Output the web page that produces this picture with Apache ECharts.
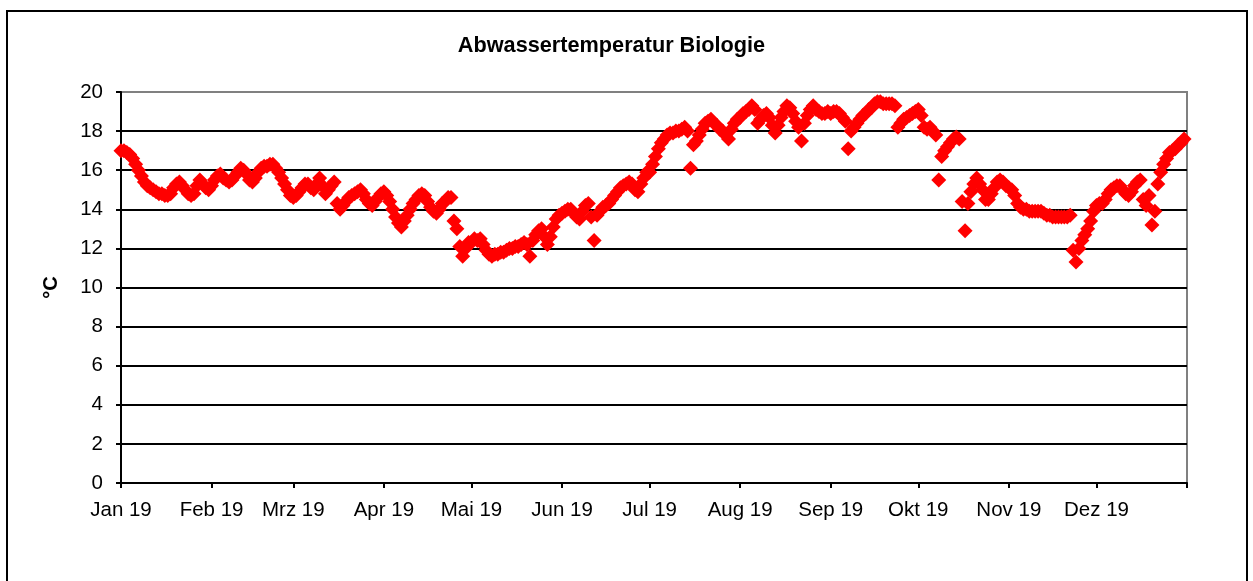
<!DOCTYPE html>
<html>
<head>
<meta charset="utf-8">
<script src="https://cdn.jsdelivr.net/npm/echarts@6.0.0/dist/echarts.min.js"></script>
<style>
  html, body { margin: 0; padding: 0; background: #fff; }
  #chart { width: 1253px; height: 581px; }
</style>
</head>
<body>
<div id="chart"></div>
<script>
// Tageswerte 2019 (°C), je Monat
const jan = [17.0,17.0,16.9,16.8,16.6,16.3,16.0,15.7,15.4,15.2,15.1,15.0,14.9,14.8,14.8,14.7,14.7,14.8,15.1,15.3,15.4,15.2,15.0,14.8,14.7,14.8,15.2,15.5,15.3,15.1,15.0];
const feb = [15.2,15.5,15.7,15.8,15.6,15.5,15.4,15.5,15.7,15.9,16.1,16.0,15.8,15.5,15.4,15.6,15.9,16.1,16.2,16.2,16.3,16.3,16.1,15.9,15.6,15.3,15.0,14.7];
const mrz = [14.6,14.7,14.9,15.1,15.3,15.3,15.1,15.0,15.3,15.6,15.2,14.8,15.0,15.2,15.4,14.3,14.0,14.2,14.4,14.6,14.7,14.8,14.9,15.0,14.8,14.5,14.3,14.2,14.4,14.6,14.8];
const apr = [14.9,14.7,14.4,14.0,13.6,13.3,13.1,13.4,13.7,14.0,14.3,14.5,14.7,14.8,14.7,14.4,14.1,13.9,13.8,14.0,14.3,14.4,14.6,14.6,13.4,13.0,12.1,11.6,12.0,12.3];
const mai = [12.3,12.5,12.4,12.5,12.2,11.9,11.7,11.6,11.7,11.7,11.8,11.8,11.9,12.0,12.0,12.1,12.1,12.2,12.3,12.2,11.6,12.4,12.7,12.9,13.0,12.6,12.2,12.6,13.1,13.5,13.7];
const jun = [13.8,13.9,14.0,14.0,13.8,13.6,13.5,13.9,14.2,14.3,13.6,12.4,13.7,13.9,14.1,14.2,14.3,14.5,14.7,14.9,15.1,15.2,15.3,15.4,15.3,15.0,14.9,15.3,15.6,15.9];
const jul = [15.9,16.3,16.7,17.1,17.4,17.6,17.8,17.9,17.9,18.0,18.0,18.1,18.2,18.0,16.1,17.3,17.5,17.8,18.1,18.4,18.5,18.6,18.4,18.3,18.1,18.0,17.8,17.6,18.1,18.4,18.6];
const aug = [18.7,18.9,19.0,19.1,19.3,19.1,18.4,18.6,18.8,18.9,18.7,18.3,17.9,18.3,18.7,19.0,19.3,19.2,18.9,18.5,18.2,17.5,18.4,18.8,19.1,19.3,19.1,19.0,18.9,18.9,19.0];
const sep = [18.9,19.0,19.0,18.9,18.7,18.5,17.1,18.0,18.2,18.4,18.6,18.8,18.9,19.1,19.2,19.4,19.5,19.5,19.4,19.4,19.4,19.4,19.3,18.2,18.4,18.6,18.7,18.8,18.9,19.0];
const okt = [19.1,18.8,18.2,18.1,18.2,18.0,17.8,15.5,16.7,17.0,17.2,17.4,17.6,17.7,17.6,14.4,12.9,14.3,14.9,15.3,15.6,15.3,15.0,14.5,14.5,14.8,15.1,15.4,15.5,15.4,15.2];
const nov = [15.1,15.0,14.7,14.3,14.1,14.0,14.0,13.9,13.9,13.9,13.9,13.9,13.8,13.7,13.7,13.6,13.6,13.6,13.6,13.6,13.6,13.7,11.9,11.3,12.0,12.4,12.7,13.0,13.4,13.9];
const dez = [14.2,14.3,14.3,14.5,14.8,15.0,15.1,15.2,15.2,15.0,14.8,14.7,14.9,15.2,15.4,15.5,14.5,14.2,14.7,13.2,13.9,15.3,15.9,16.3,16.6,16.9,17.0,17.1,17.3,17.4,17.6];

// Achsenbeschriftung
const monthLabels = ['Jan 19','Feb 19','Mrz 19','Apr 19','Mai 19','Jun 19','Jul 19','Aug 19','Sep 19','Okt 19','Nov 19','Dez 19'];
const monthStart = [0,31,59,90,120,151,181,212,243,273,304,334];
const yTicks = [0,2,4,6,8,10,12,14,16,18,20];

const temps = [].concat(jan, feb, mrz, apr, mai, jun, jul, aug, sep, okt, nov, dez);
const points = temps.map((v, i) => [i, v]);

const font = "'Liberation Sans', Arial, sans-serif";

const chart = echarts.init(document.getElementById('chart'));
chart.setOption({
  animation: false,
  backgroundColor: '#fff',
  graphic: [
    {
      type: 'rect',
      shape: { x: 7, y: 11, width: 1240, height: 600 },
      style: { fill: 'none', stroke: '#000', lineWidth: 2 },
      silent: true
    },
    {
      type: 'text',
      x: 611.5,
      y: 35,
      style: {
        text: 'Abwassertemperatur Biologie',
        font: "bold 21.7px " + font,
        fill: '#000',
        textAlign: 'center'
      }
    }
  ],
  grid: {
    left: 121,
    right: 66,
    top: 92,
    bottom: 98,
    show: true,
    borderColor: '#808080',
    borderWidth: 2,
    outerBoundsMode: 'none'
  },
  xAxis: {
    type: 'value',
    min: 0,
    max: 365,
    axisLine: { show: true, onZero: false, lineStyle: { color: '#000', width: 2 } },
    axisTick: {
      show: true,
      length: 5,
      customValues: monthStart.concat([365]),
      lineStyle: { color: '#000', width: 2 }
    },
    axisLabel: {
      customValues: monthStart,
      margin: 17,
      fontSize: 20.5,
      fontFamily: font,
      color: '#000',
      formatter: function (v) {
        const i = monthStart.indexOf(v);
        return i >= 0 ? monthLabels[i] : '';
      }
    },
    splitLine: { show: false }
  },
  yAxis: {
    type: 'value',
    min: 0,
    max: 20,
    interval: 2,
    name: '°C',
    nameLocation: 'middle',
    nameGap: 60,
    nameTextStyle: { fontSize: 20, fontWeight: 'bold', fontFamily: font, color: '#000' },
    axisLine: { show: true, lineStyle: { color: '#000', width: 2 } },
    axisTick: { show: true, length: 5, lineStyle: { color: '#000', width: 2 } },
    axisLabel: {
      margin: 18,
      fontSize: 20.5,
      fontFamily: font,
      color: '#000',
      formatter: function (v) { return yTicks.indexOf(v) >= 0 ? String(v) : ''; }
    },
    splitLine: {
      show: true,
      lineStyle: {
        color: ['#000','#000','#000','#000','#000','#000','#000','#000','#000','#000','#808080'],
        width: 2
      }
    }
  },
  series: [{
    type: 'scatter',
    data: points,
    symbol: 'diamond',
    symbolSize: 15,
    itemStyle: { color: '#ff0000', opacity: 1 }
  }]
});
</script>
</body>
</html>
